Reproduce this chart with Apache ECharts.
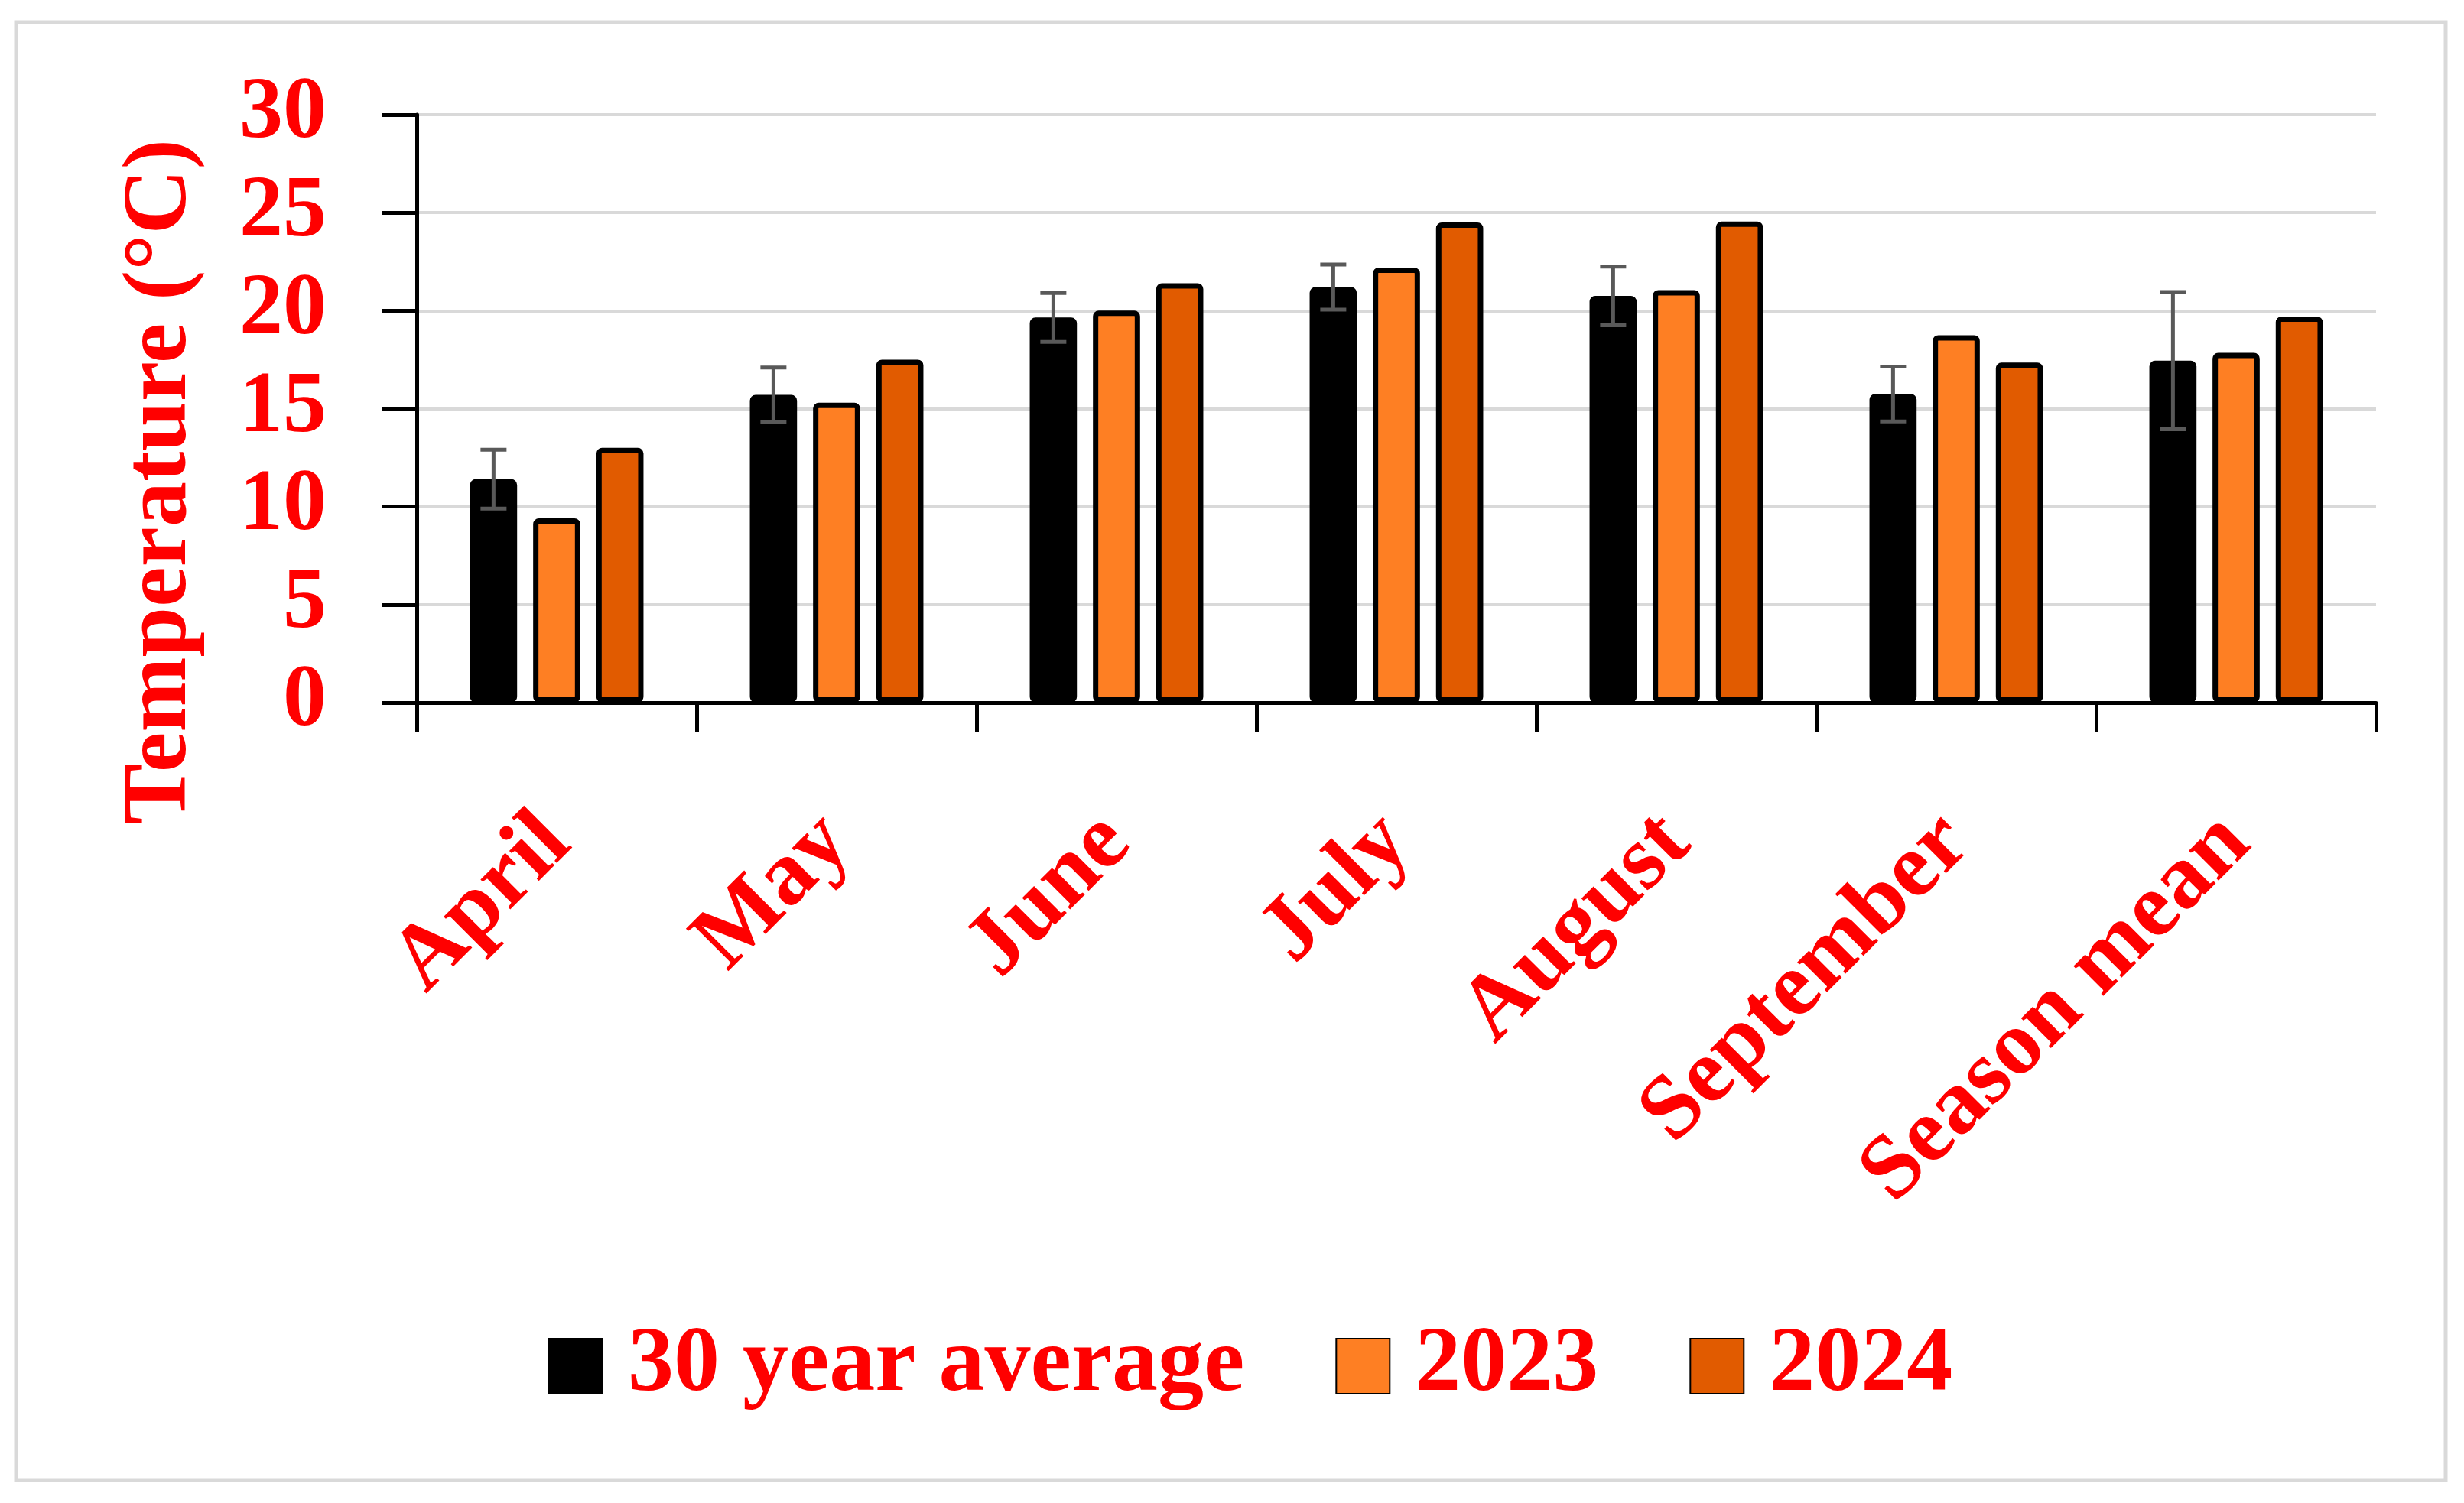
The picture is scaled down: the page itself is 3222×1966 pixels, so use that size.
<!DOCTYPE html>
<html>
<head>
<meta charset="utf-8">
<script src="https://cdn.jsdelivr.net/npm/echarts@6/dist/echarts.min.js"></script>
<style>html,body{margin:0;padding:0;background:#fff}#c{width:3222px;height:1966px}</style>
</head>
<body>
<div id="c"></div>
<script>
const categories = ['April', 'May', 'June', 'July', 'August', 'September', 'Season mean'];
const avg30 = [11.4, 15.7, 19.65, 21.2, 20.75, 15.75, 17.45];
const avg30Err = [1.5, 1.4, 1.25, 1.15, 1.5, 1.4, 3.5];
const y2023 = [9.4, 15.3, 20.0, 22.2, 21.05, 18.75, 17.85];
const y2024 = [13.0, 17.5, 21.4, 24.5, 24.55, 17.35, 19.7];
const yTicks = [0, 5, 10, 15, 20, 25, 30];

const FONT = 'Liberation Serif';
const RED = '#FF0000';
const CAT_GAP = 0.38, BAR_GAP = 0.34, N_BARS = 3;

const chart = echarts.init(document.getElementById('c'));
const errData = categories.map((c, i) => [i, avg30[i], avg30Err[i]]);

chart.setOption({
  backgroundColor: '#fff',
  animation: false,
  graphic: [
    { type: 'rect', shape: { x: 21, y: 29, width: 3177, height: 1907 },
      style: { fill: 'none', stroke: '#d9d9d9', lineWidth: 5 }, z: 0 },
    { type: 'text', x: 212, y: 630, rotation: Math.PI / 2,
      style: { text: 'Temperature (°C)', fill: RED, font: 'bold 118px "Liberation Serif"',
               textAlign: 'center', textVerticalAlign: 'middle' } }
  ],
  grid: { left: 545, right: 115, top: 150, bottom: 1047, containLabel: false },
  legend: {
    data: ['30 year average', '2023', '2024'],
    left: 712, top: 1722, width: 2200,
    icon: 'rect', itemWidth: 70, itemHeight: 72, itemGap: 119,
    textStyle: { color: RED, fontFamily: FONT, fontWeight: 'bold', fontSize: 120, padding: [0, 0, 0, 28] }
  },
  xAxis: {
    type: 'category', data: categories,
    axisLine: { lineStyle: { color: '#000', width: 5 } },
    axisTick: { show: true, length: 38, lineStyle: { color: '#000', width: 5 } },
    axisLabel: { rotate: 45, margin: 166, color: RED, fontFamily: FONT, fontWeight: 'bold', fontSize: 120, interval: 0 },
    splitLine: { show: false }
  },
  yAxis: {
    type: 'value', min: 0, max: 30, interval: 5,
    axisLine: { show: true, lineStyle: { color: '#000', width: 5 } },
    axisTick: { show: true, length: 45, lineStyle: { color: '#000', width: 5 } },
    axisLabel: { margin: 118, color: RED, fontFamily: FONT, fontWeight: 'bold', fontSize: 114,
                 formatter: v => yTicks.includes(v) ? String(v) : '' },
    splitLine: { lineStyle: { color: '#d9d9d9', width: 4 } }
  },
  series: [
    { name: '30 year average', type: 'bar', data: avg30,
      barCategoryGap: (CAT_GAP * 100) + '%', barGap: (BAR_GAP * 100) + '%',
      itemStyle: { color: '#000000', borderColor: '#000', borderWidth: 7, borderRadius: 4 } },
    { name: '2023', type: 'bar', data: y2023,
      itemStyle: { color: '#FE7F23', borderColor: '#000', borderWidth: 7, borderRadius: 4 } },
    { name: '2024', type: 'bar', data: y2024,
      itemStyle: { color: '#E15B00', borderColor: '#000', borderWidth: 7, borderRadius: 4 } },
    { name: 'err', type: 'custom', data: errData, z: 10,
      renderItem: function (params, api) {
        const i = api.value(0), m = api.value(1), e = api.value(2);
        const bw = api.size([1, 0])[0];
        const barW = (bw - bw * CAT_GAP) / (N_BARS + (N_BARS - 1) * BAR_GAP);
        const total = N_BARS * barW + (N_BARS - 1) * BAR_GAP * barW;
        const off = -total / 2 + barW / 2;
        const top = api.coord([i, m + e]);
        const bot = api.coord([i, m - e]);
        const x = top[0] + off;
        const cap = 17;
        const st = { stroke: '#595959', lineWidth: 5 };
        return { type: 'group', children: [
          { type: 'line', shape: { x1: x, y1: top[1], x2: x, y2: bot[1] }, style: st },
          { type: 'line', shape: { x1: x - cap, y1: top[1], x2: x + cap, y2: top[1] }, style: st },
          { type: 'line', shape: { x1: x - cap, y1: bot[1], x2: x + cap, y2: bot[1] }, style: st }
        ] };
      }
    }
  ]
});
</script>
</body>
</html>
